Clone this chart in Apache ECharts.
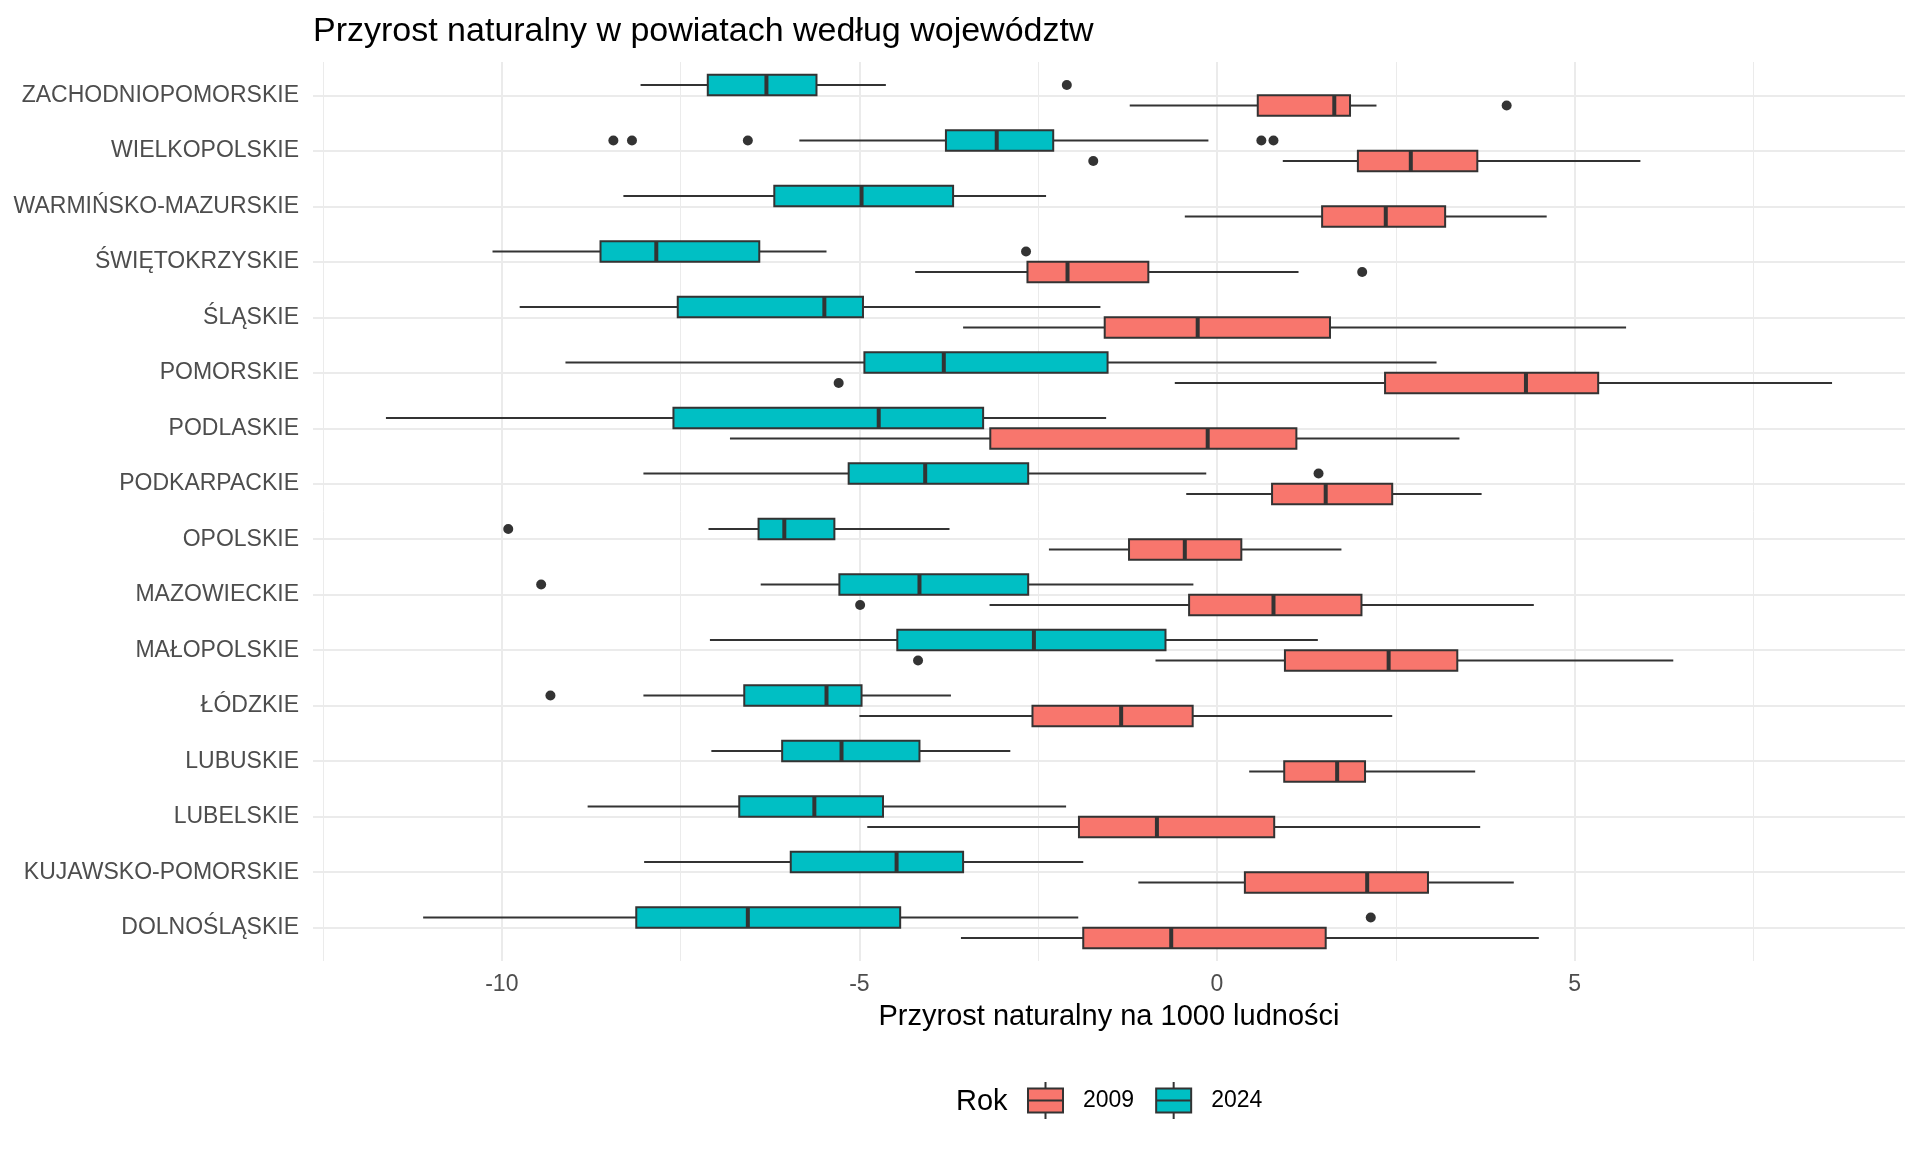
<!DOCTYPE html>
<html>
<head>
<meta charset="utf-8">
<title>Przyrost naturalny w powiatach</title>
<script src="https://cdn.jsdelivr.net/npm/echarts@6.0.0/dist/echarts.min.js"></script>
<style>
  html, body { margin: 0; padding: 0; background: #fff; }
  #chart { width: 1920px; height: 1152px; }
</style>
</head>
<body>
<div id="chart"></div>
<script>
// wojewodztwa, od dolu wykresu do gory
var provinces = [
  'DOLNOŚLĄSKIE', 'KUJAWSKO-POMORSKIE', 'LUBELSKIE', 'LUBUSKIE',
  'ŁÓDZKIE', 'MAŁOPOLSKIE', 'MAZOWIECKIE', 'OPOLSKIE',
  'PODKARPACKIE', 'PODLASKIE', 'POMORSKIE', 'ŚLĄSKIE',
  'ŚWIĘTOKRZYSKIE', 'WARMIŃSKO-MAZURSKIE', 'WIELKOPOLSKIE', 'ZACHODNIOPOMORSKIE'
]

// [dolny wąs, Q1, mediana, Q3, górny wąs]
var stats2009 = [
  [-3.58, -1.87, -0.64, 1.52, 4.50],
  [-1.10, 0.39, 2.10, 2.95, 4.15],
  [-4.89, -1.93, -0.84, 0.80, 3.68],
  [0.45, 0.94, 1.68, 2.07, 3.61],
  [-5.00, -2.58, -1.34, -0.34, 2.45],
  [-0.86, 0.95, 2.40, 3.36, 6.38],
  [-3.18, -0.39, 0.79, 2.02, 4.43],
  [-2.35, -1.23, -0.45, 0.34, 1.74],
  [-0.43, 0.77, 1.52, 2.45, 3.70],
  [-6.81, -3.17, -0.13, 1.11, 3.39],
  [-0.59, 2.35, 4.32, 5.33, 8.60],
  [-3.55, -1.57, -0.27, 1.58, 5.72],
  [-4.22, -2.65, -2.09, -0.96, 1.14],
  [-0.45, 1.47, 2.36, 3.19, 4.61],
  [0.92, 1.97, 2.71, 3.64, 5.92],
  [-1.22, 0.57, 1.64, 1.86, 2.23]
]

var stats2024 = [
  [-11.10, -8.12, -6.56, -4.43, -1.94],
  [-8.01, -5.96, -4.48, -3.55, -1.87],
  [-8.80, -6.68, -5.63, -4.67, -2.11],
  [-7.07, -6.08, -5.25, -4.16, -2.89],
  [-8.02, -6.61, -5.46, -4.97, -3.72],
  [-7.09, -4.47, -2.56, -0.72, 1.41],
  [-6.38, -5.28, -4.16, -2.64, -0.33],
  [-7.11, -6.41, -6.05, -5.35, -3.74],
  [-8.02, -5.15, -4.08, -2.64, -0.15],
  [-11.62, -7.60, -4.73, -3.27, -1.55],
  [-9.11, -4.93, -3.82, -1.53, 3.07],
  [-9.75, -7.54, -5.49, -4.95, -1.63],
  [-10.13, -8.62, -7.84, -6.40, -5.46],
  [-8.30, -6.19, -4.97, -3.69, -2.39],
  [-5.84, -3.79, -3.08, -2.29, -0.12],
  [-8.06, -7.12, -6.30, -5.60, -4.63]
]

var outliers2009 = [
  ['ZACHODNIOPOMORSKIE', 4.05],
  ['WIELKOPOLSKIE', -1.73],
  ['ŚWIĘTOKRZYSKIE', 2.03],
  ['POMORSKIE', -5.29],
  ['MAZOWIECKIE', -4.99],
  ['MAŁOPOLSKIE', -4.18]
]

var outliers2024 = [
  ['ZACHODNIOPOMORSKIE', -2.10],
  ['WIELKOPOLSKIE', -8.44],
  ['WIELKOPOLSKIE', -8.18],
  ['WIELKOPOLSKIE', -6.56],
  ['WIELKOPOLSKIE', 0.62],
  ['WIELKOPOLSKIE', 0.79],
  ['ŚWIĘTOKRZYSKIE', -2.67],
  ['PODKARPACKIE', 1.42],
  ['OPOLSKIE', -9.91],
  ['MAZOWIECKIE', -9.45],
  ['ŁÓDZKIE', -9.32],
  ['DOLNOŚLĄSKIE', 2.15]
]

var majorTicks = [-10, -5, 0, 5]
var minorTicks = [-12.5, -7.5, -2.5, 2.5, 7.5]
var catTicks = provinces.map(function (p, i) { return i + 1 })

var X_MIN = -12.64
var X_MAX = 9.62
var BOX_H = 0.37 // wysokosc pudelka w jednostkach kategorii
var SHIFT = 0.185 // przesuniecie grup (dodge)
var FONT = "'Liberation Sans', Arial, sans-serif"
var INK = '#333333'

function lineStyle (w) {
  return {stroke: INK, lineWidth: w}
}

function boxRenderer (shift) {
  return function (params, api) {
    var cat = api.value(0) + shift
    var half = api.size([0, BOX_H])[1] / 2
    var low = api.coord([api.value(1), cat])
    var q1 = api.coord([api.value(2), cat])
    var med = api.coord([api.value(3), cat])
    var q3 = api.coord([api.value(4), cat])
    var high = api.coord([api.value(5), cat])
    var y = low[1]
    return {
      type: 'group',
      children: [
        {type: 'line', shape: {x1: low[0], y1: y, x2: q1[0], y2: y}, style: lineStyle(2)},
        {type: 'line', shape: {x1: q3[0], y1: y, x2: high[0], y2: y}, style: lineStyle(2)},
        {
          type: 'rect',
          shape: {x: q1[0], y: y - half, width: q3[0] - q1[0], height: half * 2},
          style: {fill: api.visual('color'), stroke: INK, lineWidth: 2}
        },
        {type: 'line', shape: {x1: med[0], y1: y - half, x2: med[0], y2: y + half}, style: lineStyle(4)}
      ]
    }
  }
}

function pointRenderer (shift) {
  return function (params, api) {
    var p = api.coord([api.value(0), api.value(1) + shift])
    return {type: 'circle', shape: {cx: p[0], cy: p[1], r: 5}, style: {fill: INK}}
  }
}

function boxData (stats) {
  return stats.map(function (s, i) { return [i + 1].concat(s) })
}

function pointData (list) {
  return list.map(function (o) { return [o[1], provinces.indexOf(o[0]) + 1] })
}

// symbol legendy: pudelko z mediana i wasami w pionie
var KEY_ICON = 'path://M17.5,0 L17.5,6.5 M0,6.5 L35,6.5 L35,30.5 L0,30.5 Z M0,18.5 L35,18.5 M17.5,30.5 L17.5,37'

var chart = echarts.init(document.getElementById('chart'))
var option = {
  animation: false,
  backgroundColor: '#ffffff',
  textStyle: {fontFamily: FONT},
  title: {
    text: 'Przyrost naturalny w powiatach według województw',
    left: 313,
    top: 15,
    padding: 0,
    textStyle: {fontSize: 34, fontWeight: 'normal', color: '#000000', fontFamily: FONT}
  },
  legend: {
    data: [{name: '2009', icon: KEY_ICON}, {name: '2024', icon: KEY_ICON}],
    left: 1027,
    top: 1081,
    padding: 0,
    itemWidth: 35,
    itemHeight: 37,
    itemGap: 21,
    itemStyle: {borderColor: INK, borderWidth: 2},
    textStyle: {fontSize: 23, color: '#000000', fontFamily: FONT, padding: [2, 0, 0, 15]}
  },
  graphic: [{
    type: 'text',
    left: 956,
    top: 1087,
    style: {text: 'Rok', fontSize: 29, fill: '#000000', fontFamily: FONT}
  }],
  grid: {
    left: 313,
    right: 15,
    top: 62,
    bottom: 191,
    outerBoundsMode: 'none'
  },
  xAxis: [
    {
      type: 'value',
      min: X_MIN,
      max: X_MAX,
      axisLine: {show: false},
      axisTick: {show: false, customValues: majorTicks},
      axisLabel: {customValues: majorTicks, fontSize: 23, color: '#4D4D4D', margin: 12, fontFamily: FONT},
      splitLine: {show: true, lineStyle: {color: '#EBEBEB', width: 2}},
      name: 'Przyrost naturalny na 1000 ludności',
      nameLocation: 'middle',
      nameGap: 41,
      nameTextStyle: {fontSize: 29, color: '#000000', fontFamily: FONT}
    },
    {
      type: 'value',
      position: 'top',
      min: X_MIN,
      max: X_MAX,
      axisLine: {show: false},
      axisTick: {show: false, customValues: minorTicks},
      axisLabel: {show: false},
      splitLine: {show: true, lineStyle: {color: '#EBEBEB', width: 1}}
    }
  ],
  yAxis: {
    type: 'value',
    min: 0.4,
    max: 16.6,
    axisLine: {show: false},
    axisTick: {show: false, customValues: catTicks},
    axisLabel: {
      customValues: catTicks,
      fontSize: 23,
      color: '#4D4D4D',
      margin: 14,
      padding: [4, 0, 0, 0],
      fontFamily: FONT,
      formatter: function (v) { return provinces[Math.round(v) - 1] }
    },
    splitLine: {show: true, lineStyle: {color: '#EBEBEB', width: 2}}
  },
  series: [
    {
      name: '2009',
      type: 'custom',
      itemStyle: {color: '#F8766D'},
      renderItem: boxRenderer(-SHIFT),
      encode: {x: [1, 2, 3, 4, 5], y: 0},
      data: boxData(stats2009)
    },
    {
      name: '2024',
      type: 'custom',
      itemStyle: {color: '#00BFC4'},
      renderItem: boxRenderer(SHIFT),
      encode: {x: [1, 2, 3, 4, 5], y: 0},
      data: boxData(stats2024)
    },
    {
      name: '2009',
      type: 'custom',
      itemStyle: {color: INK},
      renderItem: pointRenderer(-SHIFT),
      encode: {x: 0, y: 1},
      data: pointData(outliers2009)
    },
    {
      name: '2024',
      type: 'custom',
      itemStyle: {color: INK},
      renderItem: pointRenderer(SHIFT),
      encode: {x: 0, y: 1},
      data: pointData(outliers2024)
    }
  ]
}
chart.setOption(option)
</script>
</body>
</html>
